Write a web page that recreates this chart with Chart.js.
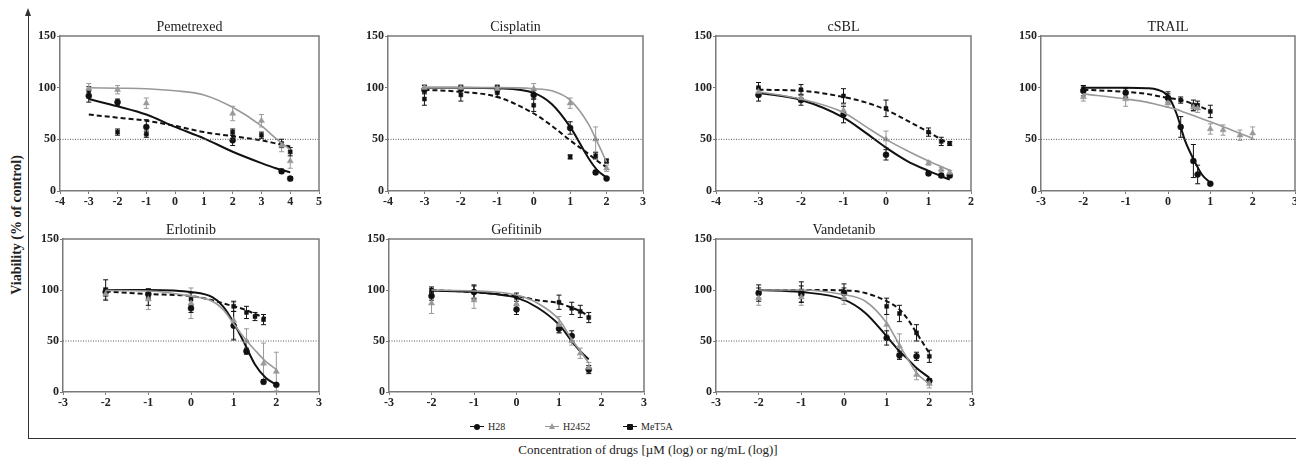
<!DOCTYPE html>
<html>
<head>
    <title>Viability curves</title>
    <style>
        html, body { margin: 0; padding: 0; background: #fff; overflow: hidden; }
        body { width: 1296px; height: 459px; position: relative; font-family: "Liberation Serif", "Times New Roman", serif; color: #222; }
        .panel { position: absolute; }
        .yaxis { position: absolute; left: 28px; top: 14px; width: 0; height: 425px; border-left: 1.2px solid #333; }
        .arrow { position: absolute; left: 25px; top: 8px; width: 0; height: 0;
                 border-left: 3.5px solid transparent; border-right: 3.5px solid transparent; border-bottom: 8px solid #333; }
        .xaxis { position: absolute; left: 28px; top: 438px; width: 1268px; height: 0; border-top: 1.2px solid #333; }
        .ytitle { position: absolute; left: 17px; top: 225px; transform: translate(-50%, -50%) rotate(-90deg);
                  white-space: nowrap; font-size: 14px; font-weight: bold; }
        .xtitle { position: absolute; left: 0; width: 1296px; top: 442px; text-align: center; font-size: 13px; }
        .legend { position: absolute; top: 421px; left: 0; width: 1296px; font-size: 10px; }
        .item { position: absolute; display: flex; align-items: center; }
        .mark { position: relative; width: 14px; height: 10px; margin-right: 4px; }
        .mark .ln { position: absolute; left: 0; top: 4px; width: 14px; height: 1.5px; }
        .mark .dot { position: absolute; left: 4px; top: 2px; width: 6px; height: 6px; border-radius: 50%; }
        .mark .tri { position: absolute; left: 4px; top: 1px; width: 0; height: 0;
                     border-left: 3px solid transparent; border-right: 3px solid transparent; border-bottom: 6px solid #999; }
    </style>
</head>
<body>
    <div class="arrow"></div>
    <div class="yaxis"></div>
    <div class="xaxis"></div>
    <div class="ytitle">Viability (% of control)</div>
    <div class="xtitle">Concentration of drugs [µM (log) or ng/mL (log)]</div>
    <div class="legend">
        <div class="item" style="left:470px"><span class="mark"><span class="ln" style="background:#111"></span><span class="dot" style="background:#111"></span></span>H28</div>
        <div class="item" style="left:545px"><span class="mark"><span class="ln" style="background:#999"></span><span class="tri"></span></span>H2452</div>
        <div class="item" style="left:623px"><span class="mark"><span class="ln" style="background:#111"></span><span class="dot" style="background:#111;border-radius:1px"></span></span>MeT5A</div>
    </div>

    <script src="https://cdn.jsdelivr.net/npm/chart.js"></script>
    <script>
        const yTicks = [0, 50, 100, 150];
        const refLevel = 50;

        // Pemetrexed
        const pemDoses = [-3, -2, -1, 2, 3, 3.7, 4];
        const pemH28 = [92, 86, 62, 49, null, 19, 12];
        const pemH28Err = [6, 3, 7, 5, 0, 2, 2];
        const pemH2452 = [99, 98, 85, 75, 68, 44, 29];
        const pemH2452Err = [5, 4, 5, 7, 6, 6, 7];
        const pemMeT5A = [97, 57, 55, 57, 54, 46, 38];
        const pemMeT5AErr = [4, 3, 3, 3, 3, 4, 4];
        const pemCurveX = [-3, -2, -1, 0, 1, 2, 3, 3.5, 4];
        const pemCurveH28 = [89, 82, 74, 62, 51, 38, 27, 22, 18];
        const pemCurveH2452 = [100, 99.5, 99, 97, 93, 81, 63, 51, 40];
        const pemCurveMeT5A = [74, 71, 68, 63, 57, 53, 49, 46, 43];

        // Cisplatin
        const cisDoses = [-3, -2, -1, 0, 1, 1.7, 2];
        const cisH28 = [98, 99, 99, 93, 61, 18, 12];
        const cisH28Err = [4, 3, 3, 4, 6, 2, 1];
        const cisH2452 = [100, 100, 99, 99, 85, 50, 22];
        const cisH2452Err = [3, 3, 4, 5, 5, 12, 3];
        const cisMeT5A = [89, 93, 95, 83, 33, 34, 29];
        const cisMeT5AErr = [6, 6, 4, 6, 2, 3, 2];
        const cisCurveX = [-3, -2, -1, 0, 0.5, 1, 1.5, 1.75, 2];
        const cisCurveH28 = [100, 100, 99.5, 95, 84, 62, 32, 20, 13];
        const cisCurveH2452 = [100, 100, 100, 99, 97, 88, 65, 47, 28];
        const cisCurveMeT5A = [98, 96, 91, 75, 63, 49, 36, 29, 23];

        // cSBL
        const sblDoses = [-3, -2, -1, 0, 1, 1.3, 1.5];
        const sblH28 = [93, 88, 74, 35, 17, 15, 15];
        const sblH28Err = [6, 5, 8, 5, 2, 2, 2];
        const sblH2452 = [96, 90, 78, 50, 27, 21, 18];
        const sblH2452Err = [4, 4, 6, 8, 2, 2, 2];
        const sblMeT5A = [100, 98, 92, 80, 57, 48, 46];
        const sblMeT5AErr = [5, 5, 7, 8, 4, 4, 2];
        const sblCurveX = [-3, -2, -1, -0.5, 0, 0.5, 1, 1.5];
        const sblCurveH28 = [95, 88, 71, 57, 42, 29, 19.5, 11];
        const sblCurveH2452 = [96, 89, 76, 63, 50, 39, 29, 20];
        const sblCurveMeT5A = [98, 97, 91, 86, 78.6, 68, 57, 45];

        // TRAIL
        const trlDoses = [-2, -1, 0, 0.3, 0.6, 0.7, 1, 1.3, 1.7, 2];
        const trlH28 = [97, 95, 90, 62, 29, 16, 7, null, null, null];
        const trlH28Err = [5, 5, 6, 10, 16, 9, 1, 0, 0, 0];
        const trlH2452 = [91, 89, 85, null, 81, 80, 60, 59, 54, 56];
        const trlH2452Err = [4, 7, 4, 0, 4, 4, 5, 5, 5, 6];
        const trlMeT5A = [99, 95, 90, 88, 83, 83, 77, null, null, null];
        const trlMeT5AErr = [3, 4, 4, 3, 5, 4, 6, 0, 0, 0];
        const trlCurveX = [-2, -1, -0.5, -0.25, 0, 0.2, 0.4, 0.6, 0.8, 1, 1.5, 2];
        const trlCurveH28 = [100, 100, 99.5, 98, 92, 75, 49, 31, 16, 8, null, null];
        const trlCurveH2452 = [94, 89, 86, 83.5, 81, 79, 76, 73, 70, 67, 59, 51];
        const trlCurveMeT5A = [98, 96, 94, 92, 90, 89, 87, 84, 81, 77, null, null];

        // Erlotinib
        const erlDoses = [-2, -1, 0, 1, 1.3, 1.5, 1.7, 2];
        const erlH28 = [98, 96, 82, 65, 40, null, 10, 7];
        const erlH28Err = [4, 5, 4, 14, 3, 0, 2, 1];
        const erlH2452 = [96, 91, 87, 70, 50, null, 28, 20];
        const erlH2452Err = [5, 10, 15, 18, 12, 0, 20, 19];
        const erlMeT5A = [100, 93, 91, 84, 78, 74, 71, null];
        const erlMeT5AErr = [10, 8, 6, 5, 6, 4, 5, 0];
        const erlCurveX = [-2, -1, 0, 0.5, 0.75, 1, 1.25, 1.5, 1.75, 2];
        const erlCurveH28 = [100, 100, 98, 93, 84, 68, 48, 27, 14, 7];
        const erlCurveH2452 = [99.6, 99, 94, 89, 81, 67, 53, 41, 30, 22];
        const erlCurveMeT5A = [98.5, 96, 94, 90, 87, 84, 81, 76.5, 72.5, null];

        // Gefitinib
        const gefDoses = [-2, -1, 0, 1, 1.3, 1.5, 1.7];
        const gefH28 = [94, 98, 81, 62, 55, null, 22];
        const gefH28Err = [4, 7, 5, 4, 5, 0, 4];
        const gefH2452 = [87, 90, 86, 66, 50, 38, 24];
        const gefH2452Err = [10, 8, 5, 8, 4, 5, 5];
        const gefMeT5A = [100, 98, 93, 88, 82, 79, 73];
        const gefMeT5AErr = [3, 6, 4, 7, 6, 6, 5];
        const gefCurveX = [-2, -1, -0.5, 0, 0.5, 1, 1.3, 1.5, 1.7];
        const gefCurveH28 = [99.5, 98, 96, 92.5, 82.6, 66, 50, 40, 32];
        const gefCurveH2452 = [100, 99, 98, 95, 87, 71, 51.5, 40, 28.5];
        const gefCurveMeT5A = [99.7, 98, 96, 94, 90, 87, 82.6, 79.3, 74.4];

        // Vandetanib
        const vanDoses = [-2, -1, 0, 1, 1.3, 1.7, 2];
        const vanH28 = [97, 96, 97, 53, 36, 35, 11];
        const vanH28Err = [5, 8, 5, 7, 4, 4, 2];
        const vanH2452 = [92, 93, 92, 66, 45, 17, 8];
        const vanH2452Err = [7, 8, 6, 10, 12, 5, 4];
        const vanMeT5A = [97, 98, 98, 84, 77, 58, 35];
        const vanMeT5AErr = [8, 10, 8, 8, 8, 8, 6];
        const vanCurveX = [-2, -1, 0, 0.5, 1, 1.3, 1.5, 1.7, 2];
        const vanCurveH28 = [100, 98, 90.5, 77.5, 54.6, 40, 32, 23.5, 14];
        const vanCurveH2452 = [100, 100, 95.4, 89, 67.6, 46, 32, 18.6, 8];
        const vanCurveMeT5A = [100, 100, 99.7, 97, 89, 81, 71, 58, 38];

        const panels = [
            { title: 'Pemetrexed', xMin: -4, xMax: 5, doses: pemDoses, curveX: pemCurveX,
              H28: [pemH28, pemH28Err, pemCurveH28], H2452: [pemH2452, pemH2452Err, pemCurveH2452], MeT5A: [pemMeT5A, pemMeT5AErr, pemCurveMeT5A],
              box: { left: 60, top: 36, width: 259, height: 155 } },
            { title: 'Cisplatin', xMin: -4, xMax: 3, doses: cisDoses, curveX: cisCurveX,
              H28: [cisH28, cisH28Err, cisCurveH28], H2452: [cisH2452, cisH2452Err, cisCurveH2452], MeT5A: [cisMeT5A, cisMeT5AErr, cisCurveMeT5A],
              box: { left: 388, top: 36, width: 255, height: 155 } },
            { title: 'cSBL', xMin: -4, xMax: 2, doses: sblDoses, curveX: sblCurveX,
              H28: [sblH28, sblH28Err, sblCurveH28], H2452: [sblH2452, sblH2452Err, sblCurveH2452], MeT5A: [sblMeT5A, sblMeT5AErr, sblCurveMeT5A],
              box: { left: 716, top: 36, width: 255, height: 155 } },
            { title: 'TRAIL', xMin: -3, xMax: 3, doses: trlDoses, curveX: trlCurveX,
              H28: [trlH28, trlH28Err, trlCurveH28], H2452: [trlH2452, trlH2452Err, trlCurveH2452], MeT5A: [trlMeT5A, trlMeT5AErr, trlCurveMeT5A],
              box: { left: 1041, top: 36, width: 254, height: 155 } },
            { title: 'Erlotinib', xMin: -3, xMax: 3, doses: erlDoses, curveX: erlCurveX,
              H28: [erlH28, erlH28Err, erlCurveH28], H2452: [erlH2452, erlH2452Err, erlCurveH2452], MeT5A: [erlMeT5A, erlMeT5AErr, erlCurveMeT5A],
              box: { left: 63, top: 239, width: 256, height: 153 } },
            { title: 'Gefitinib', xMin: -3, xMax: 3, doses: gefDoses, curveX: gefCurveX,
              H28: [gefH28, gefH28Err, gefCurveH28], H2452: [gefH2452, gefH2452Err, gefCurveH2452], MeT5A: [gefMeT5A, gefMeT5AErr, gefCurveMeT5A],
              box: { left: 389, top: 239, width: 255, height: 153 } },
            { title: 'Vandetanib', xMin: -3, xMax: 3, doses: vanDoses, curveX: vanCurveX,
              H28: [vanH28, vanH28Err, vanCurveH28], H2452: [vanH2452, vanH2452Err, vanCurveH2452], MeT5A: [vanMeT5A, vanMeT5AErr, vanCurveMeT5A],
              box: { left: 716, top: 239, width: 256, height: 153 } }
        ];

        const looks = {
            H28:   { color: '#111', width: 2,   dash: [],     point: 'circle',   radius: 3 },
            H2452: { color: '#999', width: 1.6, dash: [],     point: 'triangle', radius: 3.5 },
            MeT5A: { color: '#111', width: 2,   dash: [5, 3], point: 'rect',     radius: 2.8 }
        };
        const font = '"Liberation Serif", "Times New Roman", serif';
        const axisColor = '#7a7a7a';

        // error bars + top/right frame + panel title
        const panelDecor = {
            id: 'panelDecor',
            beforeDatasetsDraw(chart) {
                const { ctx, scales: { x, y } } = chart;
                ctx.save();
                ctx.lineWidth = 1;
                chart.data.datasets.forEach(ds => {
                    if (!ds.errorBars) return;
                    ctx.strokeStyle = ds.borderColor;
                    ds.data.forEach(p => {
                        if (!p.e) return;
                        const px = x.getPixelForValue(p.x);
                        const t = y.getPixelForValue(p.y + p.e);
                        const b = y.getPixelForValue(p.y - p.e);
                        ctx.beginPath();
                        ctx.moveTo(px, t); ctx.lineTo(px, b);
                        ctx.moveTo(px - 2.5, t); ctx.lineTo(px + 2.5, t);
                        ctx.moveTo(px - 2.5, b); ctx.lineTo(px + 2.5, b);
                        ctx.stroke();
                    });
                });
                ctx.restore();
            },
            afterDraw(chart, args, opts) {
                const { ctx, chartArea: a } = chart;
                ctx.save();
                ctx.strokeStyle = axisColor;
                ctx.lineWidth = 1.5;
                ctx.beginPath();
                ctx.moveTo(a.left, a.top); ctx.lineTo(a.right, a.top); ctx.lineTo(a.right, a.bottom);
                ctx.stroke();
                ctx.fillStyle = '#222';
                ctx.font = '14px ' + font;
                ctx.textAlign = 'center';
                ctx.textBaseline = 'middle';
                ctx.fillText(opts.text, (a.left + a.right) / 2, a.top - 9);
                ctx.restore();
            }
        };

        panels.forEach(p => {
            const wrap = document.createElement('div');
            wrap.className = 'panel';
            const canvas = document.createElement('canvas');
            canvas.width = p.box.width + 50;
            canvas.height = p.box.height + 50;
            wrap.appendChild(canvas);
            document.body.appendChild(wrap);

            const datasets = [{
                type: 'line',
                data: [{ x: p.xMin, y: refLevel }, { x: p.xMax, y: refLevel }],
                borderColor: '#555', borderWidth: 1, borderDash: [1, 1.5], pointRadius: 0
            }];
            ['H2452', 'MeT5A', 'H28'].forEach(name => {
                const [vals, errs, curve] = p[name];
                const lk = looks[name];
                datasets.push({
                    type: 'line', label: name,
                    data: p.curveX.map((x, i) => ({ x, y: curve[i] })).filter(d => d.y != null),
                    borderColor: lk.color, borderWidth: lk.width, borderDash: lk.dash,
                    pointRadius: 0, tension: 0.4, cubicInterpolationMode: 'monotone'
                });
                datasets.push({
                    type: 'scatter', label: name, errorBars: true,
                    data: p.doses.map((x, i) => ({ x, y: vals[i], e: errs[i] })).filter(d => d.y != null),
                    borderColor: lk.color, backgroundColor: lk.color,
                    pointStyle: lk.point, pointRadius: lk.radius, borderWidth: 0.5
                });
            });

            const chart = new Chart(canvas, {
                type: 'scatter',
                data: { datasets },
                options: {
                    responsive: false,
                    animation: false,
                    devicePixelRatio: 1,
                    layout: { padding: { top: 30, right: 10, left: 0, bottom: 0 } },
                    plugins: { legend: { display: false }, tooltip: { enabled: false }, panelDecor: { text: p.title } },
                    scales: {
                        x: {
                            type: 'linear', min: p.xMin, max: p.xMax,
                            afterFit(s) { s.height = 20; },
                            border: { color: axisColor, width: 1.5 },
                            grid: { drawOnChartArea: false, tickLength: 3, color: axisColor },
                            ticks: { stepSize: 1, autoSkip: false, maxRotation: 0, padding: 1, color: '#222',
                                     font: { family: font, size: 12, weight: 'bold' } }
                        },
                        y: {
                            min: 0, max: 150,
                            afterFit(s) { s.width = 40; },
                            afterBuildTicks(s) { s.ticks = yTicks.map(v => ({ value: v })); },
                            border: { color: axisColor, width: 1.5 },
                            grid: { drawOnChartArea: false, tickLength: 3, color: axisColor },
                            ticks: { padding: 1, color: '#222', font: { family: font, size: 12, weight: 'bold' } }
                        }
                    }
                },
                plugins: [panelDecor]
            });

            const a = chart.chartArea;
            wrap.style.left = (p.box.left - a.left) + 'px';
            wrap.style.top = (p.box.top - a.top) + 'px';
        });
    </script>
</body>
</html>
